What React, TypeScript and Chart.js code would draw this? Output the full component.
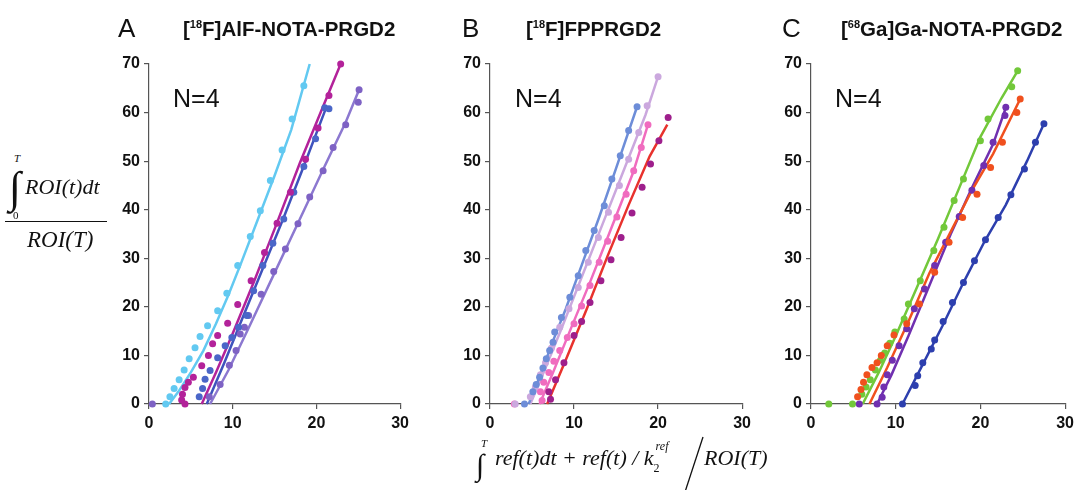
import React, { useEffect, useRef } from "react";
import { Chart, registerables } from "chart.js";

Chart.register(...registerables);

type Pt = [number, number];

const X_TICKS = [0, 10, 20, 30];
const Y_TICKS = [0, 10, 20, 30, 40, 50, 60, 70];

// ---------- Panel A: [18F]AlF-NOTA-PRGD2 ----------
const A_SKY_PTS: Pt[] = [[2.0,0],[2.5,1.5],[3.0,3.2],[3.6,5.0],[4.2,7.0],[4.8,9.3],[5.5,11.6],[6.1,13.9],[7.0,16.1],[8.2,19.2],[9.3,22.8],[10.6,28.5],[12.1,34.5],[13.3,39.8],[14.5,46.0],[15.9,52.3],[17.1,58.7],[18.5,65.5]];
const A_SKY_LINE: Pt[] = [[2.4,0],[3.5,2.5],[5.0,6.5],[6.5,11.0],[8.0,16.5],[9.5,22.5],[11.0,29.0],[13.0,38.0],[15.0,47.0],[17.0,56.5],[19.2,70]];
const A_MAG_PTS: Pt[] = [[4.3,0],[3.9,0.8],[4.0,2.0],[4.3,3.4],[4.7,4.5],[5.3,5.5],[6.3,7.9],[7.1,10.0],[7.6,12.4],[8.2,14.1],[9.4,16.6],[10.6,20.5],[12.2,25.4],[13.8,31.2],[15.3,37.2],[16.9,43.6],[18.7,50.4],[20.2,56.8],[21.5,63.5],[22.9,70]];
const A_MAG_LINE: Pt[] = [[6.3,0],[8.0,6.5],[10.0,14.5],[12.5,25.0],[15.0,36.0],[18.0,49.5],[20.5,60.0],[22.9,70]];
const A_BLUE_PTS: Pt[] = [[6.0,1.5],[6.4,3.2],[6.7,5.1],[7.3,6.9],[8.2,9.5],[9.1,12.0],[9.9,13.7],[10.7,15.8],[11.7,18.2],[12.5,23.3],[13.6,28.5],[14.8,33.1],[16.1,38.1],[17.3,43.6],[18.5,48.9],[19.9,54.6],[21.0,61.0],[21.5,60.8]];
const A_BLUE_LINE: Pt[] = [[6.9,0],[9.0,8.5],[11.0,17.0],[13.5,27.5],[16.0,38.0],[18.5,49.0],[21.1,60.7]];
const A_LAV_PTS: Pt[] = [[0.4,0],[7.2,1.5],[8.5,4.0],[9.6,8.0],[10.4,11.0],[10.9,14.4],[11.4,15.8],[11.9,18.2],[13.4,22.6],[14.9,27.3],[16.3,31.9],[17.8,37.1],[19.2,42.6],[20.8,48.0],[22.0,52.8],[23.5,57.5],[25.0,62.1],[25.1,64.7]];
const A_LAV_LINE: Pt[] = [[7.3,0],[9.5,7.0],[12.0,16.0],[15.0,27.0],[18.0,38.0],[21.0,49.0],[23.5,58.0],[25.1,64.7]];

// ---------- Panel B: [18F]FPPRGD2 ----------
const B_BLUE_PTS: Pt[] = [[4.1,0],[5.1,2.5],[5.5,4.0],[5.9,5.5],[6.3,7.4],[6.7,9.3],[7.1,11.0],[7.5,12.7],[7.7,14.8],[8.5,17.8],[9.5,22.0],[10.5,26.4],[11.4,31.6],[12.4,35.7],[13.6,40.8],[14.5,46.3],[15.5,51.1],[16.5,56.3],[17.5,61.2]];
const B_BLUE_LINE: Pt[] = [[4.6,0],[6.0,6.0],[7.5,13.0],[9.0,19.5],[11.0,29.0],[13.0,38.5],[15.0,48.5],[17.5,61.2]];
const B_LILAC_PTS: Pt[] = [[3.0,0],[4.8,1.5],[5.4,3.5],[6.0,6.0],[6.6,8.5],[7.3,11.5],[8.3,15.8],[9.4,19.6],[10.5,24.0],[11.7,29.2],[12.9,34.3],[14.1,39.5],[15.4,45.0],[16.5,50.4],[17.7,55.9],[18.7,61.4],[20.0,67.4]];
const B_LILAC_LINE: Pt[] = [[4.8,0],[6.5,7.0],[8.5,15.5],[11.0,26.5],[13.5,37.5],[16.0,48.5],[18.5,59.5],[20.0,67.4]];
const B_PINK_PTS: Pt[] = [[2.9,0],[6.2,0.7],[6.0,2.5],[6.4,4.5],[7.0,6.5],[7.6,8.8],[8.3,11.0],[9.2,13.7],[10.0,16.5],[10.9,20.2],[11.9,24.4],[13.0,29.2],[14.0,33.5],[15.1,38.5],[16.2,43.2],[17.1,48.0],[18.0,52.8],[18.8,57.5]];
const B_PINK_LINE: Pt[] = [[5.9,0],[7.5,6.5],[9.5,15.0],[12.0,25.5],[14.5,36.5],[17.0,47.5],[18.8,57.5]];
const B_PLUM_PTS: Pt[] = [[7.2,1.0],[7.0,2.5],[7.8,5.0],[8.8,8.5],[10.0,14.1],[10.9,17.0],[11.9,20.9],[13.2,25.4],[14.4,29.7],[15.6,34.3],[16.9,39.3],[18.1,44.6],[19.1,49.4],[20.1,54.2],[21.2,59.0]];
const B_RED_LINE: Pt[] = [[6.8,0],[9.0,9.0],[11.5,19.5],[14.0,30.5],[16.5,41.0],[19.0,51.0],[21.1,57.5]];

// ---------- Panel C: [68Ga]Ga-NOTA-PRGD2 ----------
const C_GREEN_PTS: Pt[] = [[2.1,0],[4.9,0],[6.0,2.0],[6.5,3.5],[7.0,5.0],[7.6,7.0],[8.2,9.0],[8.7,10.5],[9.3,12.5],[9.9,14.8],[11.0,17.5],[11.5,20.6],[12.9,25.4],[14.5,31.6],[15.7,36.4],[16.9,41.9],[18.0,46.3],[20.0,54.2],[20.9,58.7],[23.7,65.3],[24.4,68.6]];
const C_GREEN_LINE: Pt[] = [[6.1,0],[8.0,6.5],[10.0,14.0],[12.5,24.0],[15.0,34.0],[17.5,44.5],[20.0,55.0],[22.5,63.0],[24.4,68.6]];
const C_PURPLE_PTS: Pt[] = [[5.7,0],[7.8,0],[8.4,1.4],[8.6,3.5],[9.0,6.0],[9.6,9.0],[10.4,12.0],[11.3,15.5],[12.2,19.6],[13.4,23.7],[14.6,28.5],[15.9,33.3],[17.5,38.6],[19.0,44.0],[20.4,49.1],[21.5,53.9],[22.9,59.4],[23.0,61.1]];
const C_PURPLE_LINE: Pt[] = [[7.8,0],[9.5,6.0],[11.5,14.0],[14.0,24.5],[16.5,35.0],[19.0,44.5],[21.5,53.5],[23.0,61.0]];
const C_ORANGE_PTS: Pt[] = [[5.5,1.5],[5.9,3.0],[6.2,4.5],[6.6,6.0],[7.2,7.5],[7.8,8.5],[8.3,10.0],[9.0,12.0],[9.8,14.2],[11.3,16.5],[12.8,20.6],[14.6,27.1],[16.3,33.3],[17.9,38.4],[19.6,43.2],[21.2,48.7],[22.6,53.9],[24.3,60.0],[24.7,62.8]];
const C_ORANGE_LINE: Pt[] = [[6.9,0],[9.0,7.5],[11.5,17.0],[14.0,27.0],[16.5,35.5],[19.0,44.0],[21.5,51.5],[24.7,62.8]];
const C_BLUE_PTS: Pt[] = [[10.8,0],[12.3,3.8],[12.6,5.8],[13.2,8.5],[14.2,11.3],[14.6,13.2],[15.6,17.0],[16.7,20.9],[18.0,25.0],[19.3,29.5],[20.6,33.8],[22.1,38.4],[23.6,43.1],[25.2,48.4],[26.5,53.9],[27.5,57.7]];
const C_BLUE_LINE: Pt[] = [[10.8,0],[13.0,7.5],[15.5,16.0],[18.0,25.0],[20.5,33.5],[23.0,41.0],[25.5,50.0],[27.5,57.7]];

type Series = { line: Pt[]; pts: Pt[]; lineColor: string; dotColor: string };

const PANEL_A: Series[] = [
  { line: A_SKY_LINE, pts: A_SKY_PTS, lineColor: "#62c9f1", dotColor: "#62c9f1" },
  { line: A_MAG_LINE, pts: A_MAG_PTS, lineColor: "#b3229a", dotColor: "#b3229a" },
  { line: A_BLUE_LINE, pts: A_BLUE_PTS, lineColor: "#3f52bd", dotColor: "#4a66c8" },
  { line: A_LAV_LINE, pts: A_LAV_PTS, lineColor: "#8c78d0", dotColor: "#7e62c4" },
];
const PANEL_B: Series[] = [
  { line: B_BLUE_LINE, pts: B_BLUE_PTS, lineColor: "#6d8dd8", dotColor: "#6d8dd8" },
  { line: B_LILAC_LINE, pts: B_LILAC_PTS, lineColor: "#cba8de", dotColor: "#cba8de" },
  { line: B_PINK_LINE, pts: B_PINK_PTS, lineColor: "#f06cbf", dotColor: "#f06cbf" },
  { line: B_RED_LINE, pts: B_PLUM_PTS, lineColor: "#e8322d", dotColor: "#9e1f8c" },
];
const PANEL_C: Series[] = [
  { line: C_BLUE_LINE, pts: C_BLUE_PTS, lineColor: "#2d3fae", dotColor: "#2d3fae" },
  { line: C_ORANGE_LINE, pts: C_ORANGE_PTS, lineColor: "#f0501e", dotColor: "#f0501e" },
  { line: C_PURPLE_LINE, pts: C_PURPLE_PTS, lineColor: "#7030b0", dotColor: "#7030b0" },
  { line: C_GREEN_LINE, pts: C_GREEN_PTS, lineColor: "#72c83a", dotColor: "#72c83a" },
];

const SANS = "'Liberation Sans', Arial, sans-serif";
const SERIF = "'Liberation Serif', 'Times New Roman', serif";

const CANVAS_TOP = 40;
const CANVAS_H = 420;
const Y_AXIS_W = 60;
const X_AXIS_H = 56;
const PAD_TOP = 24;
const PAD_RIGHT = 11;

function PanelChart({ series, x0, x30 }: { series: Series[]; x0: number; x30: number }) {
  const ref = useRef<HTMLCanvasElement>(null);
  const width = x30 - x0 + Y_AXIS_W + PAD_RIGHT;
  useEffect(() => {
    const canvas = ref.current;
    if (!canvas) return;
    const datasets: any[] = [];
    for (const s of series) {
      datasets.push({
        data: s.pts.map(([x, y]) => ({ x, y })),
        showLine: false,
        pointRadius: 3.5,
        pointHoverRadius: 3.5,
        backgroundColor: s.dotColor,
        borderColor: s.dotColor,
        borderWidth: 0,
        clip: false,
      });
    }
    for (const s of series) {
      datasets.push({
        data: s.line.map(([x, y]) => ({ x, y })),
        showLine: true,
        borderColor: s.lineColor,
        backgroundColor: s.lineColor,
        borderWidth: 2.5,
        pointRadius: 0,
        pointHoverRadius: 0,
        tension: 0,
        clip: false,
      });
    }
    const tickFont = { family: SANS, weight: "bold" as const, size: 16 };
    const chart = new Chart(canvas, {
      type: "scatter",
      data: { datasets },
      options: {
        responsive: false,
        maintainAspectRatio: false,
        animation: false,
        layout: { padding: { left: 0, top: PAD_TOP, right: PAD_RIGHT, bottom: 0 } },
        plugins: { legend: { display: false }, tooltip: { enabled: false }, title: { display: false } },
        events: [],
        scales: {
          x: {
            type: "linear",
            min: 0,
            max: 30,
            afterBuildTicks: (axis: any) => {
              axis.ticks = X_TICKS.map((v) => ({ value: v }));
            },
            ticks: { font: tickFont, color: "#111", padding: 5, maxRotation: 0, autoSkip: false },
            grid: { display: true, drawOnChartArea: false, drawTicks: true, tickLength: 5, color: "#555", lineWidth: 1.2 },
            border: { display: true, color: "#555", width: 1.2 },
            afterFit: (s: any) => {
              s.height = X_AXIS_H;
            },
          },
          y: {
            type: "linear",
            min: 0,
            max: 70,
            afterBuildTicks: (axis: any) => {
              axis.ticks = Y_TICKS.map((v) => ({ value: v }));
            },
            ticks: { font: tickFont, color: "#111", padding: 4, autoSkip: false },
            grid: { display: true, drawOnChartArea: false, drawTicks: true, tickLength: 5, color: "#555", lineWidth: 1.2 },
            border: { display: true, color: "#555", width: 1.2 },
            afterFit: (s: any) => {
              s.width = Y_AXIS_W;
            },
          },
        },
      } as any,
    });
    return () => chart.destroy();
  }, [series]);
  return (
    <canvas
      ref={ref}
      width={width}
      height={CANVAS_H}
      style={{ position: "absolute", left: x0 - Y_AXIS_W, top: CANVAS_TOP, width, height: CANVAS_H }}
    />
  );
}

function Txt({ left, baseline, size, family, italic, bold, children }: any) {
  const k = family === SERIF ? 0.8375 : 0.8465;
  return (
    <div
      style={{
        position: "absolute",
        left,
        top: baseline - k * size,
        fontSize: size,
        lineHeight: 1,
        fontFamily: family,
        fontStyle: italic ? "italic" : "normal",
        fontWeight: bold ? "bold" : "normal",
        whiteSpace: "nowrap",
        color: "#111",
      }}
    >
      {children}
    </div>
  );
}

function Title({ left, pre, sup, post }: { left: number; pre: string; sup: string; post: string }) {
  return (
    <Txt left={left} baseline={36} size={20.5} family={SANS} bold>
      {pre}
      <span style={{ fontSize: 11, position: "relative", top: -8 }}>{sup}</span>
      {post}
    </Txt>
  );
}

export default function App() {
  return (
    <div
      style={{
        position: "absolute",
        left: 0,
        top: 0,
        width: 1079,
        height: 490,
        overflow: "hidden",
        background: "#fff",
      }}
    >
      <PanelChart series={PANEL_A} x0={149} x30={403} />
      <PanelChart series={PANEL_B} x0={490} x30={745} />
      <PanelChart series={PANEL_C} x0={811} x30={1068} />

      <Txt left={118} baseline={37} size={26} family={SANS}>A</Txt>
      <Txt left={462} baseline={37} size={26} family={SANS}>B</Txt>
      <Txt left={782} baseline={37} size={26} family={SANS}>C</Txt>
      <Title left={183} pre="[" sup="18" post="F]AlF-NOTA-PRGD2" />
      <Title left={526} pre="[" sup="18" post="F]FPPRGD2" />
      <Title left={841} pre="[" sup="68" post="Ga]Ga-NOTA-PRGD2" />

      <Txt left={173} baseline={107} size={25} family={SANS}>N=4</Txt>
      <Txt left={515} baseline={107} size={25} family={SANS}>N=4</Txt>
      <Txt left={835} baseline={107} size={25} family={SANS}>N=4</Txt>

      {/* y-axis label formula */}
      <Txt left={14} baseline={162} size={11} family={SERIF} italic>T</Txt>
      <Txt left={9} baseline={203} size={44} family={SERIF}>∫</Txt>
      <Txt left={13} baseline={219} size={11} family={SERIF}>0</Txt>
      <Txt left={25} baseline={194} size={22} family={SERIF} italic>ROI(t)dt</Txt>
      <div style={{ position: "absolute", left: 5, top: 221, width: 102, height: 1.3, background: "#111" }} />
      <Txt left={27} baseline={247} size={23} family={SERIF} italic>ROI(T)</Txt>

      {/* x-axis label formula (under panel B) */}
      <Txt left={481} baseline={447} size={11} family={SERIF} italic>T</Txt>
      <Txt left={476} baseline={475} size={30} family={SERIF}>∫</Txt>
      <Txt left={480} baseline={497} size={11} family={SERIF}>0</Txt>
      <Txt left={495} baseline={465} size={22} family={SERIF} italic>
        ref(t)dt + ref(t) / k
        <span style={{ position: "relative", display: "inline-block", width: 24, height: 0 }}>
          <span style={{ position: "absolute", left: 0, top: -3, fontSize: 12, fontStyle: "normal" }}>2</span>
          <span style={{ position: "absolute", left: 2, top: -25, fontSize: 12 }}>ref</span>
        </span>
      </Txt>
      <svg style={{ position: "absolute", left: 0, top: 0 }} width={1079} height={490}>
        <line x1={685} y1={492} x2={703} y2={437} stroke="#111" strokeWidth={1.3} />
      </svg>
      <Txt left={704} baseline={465} size={22} family={SERIF} italic>ROI(T)</Txt>
    </div>
  );
}
